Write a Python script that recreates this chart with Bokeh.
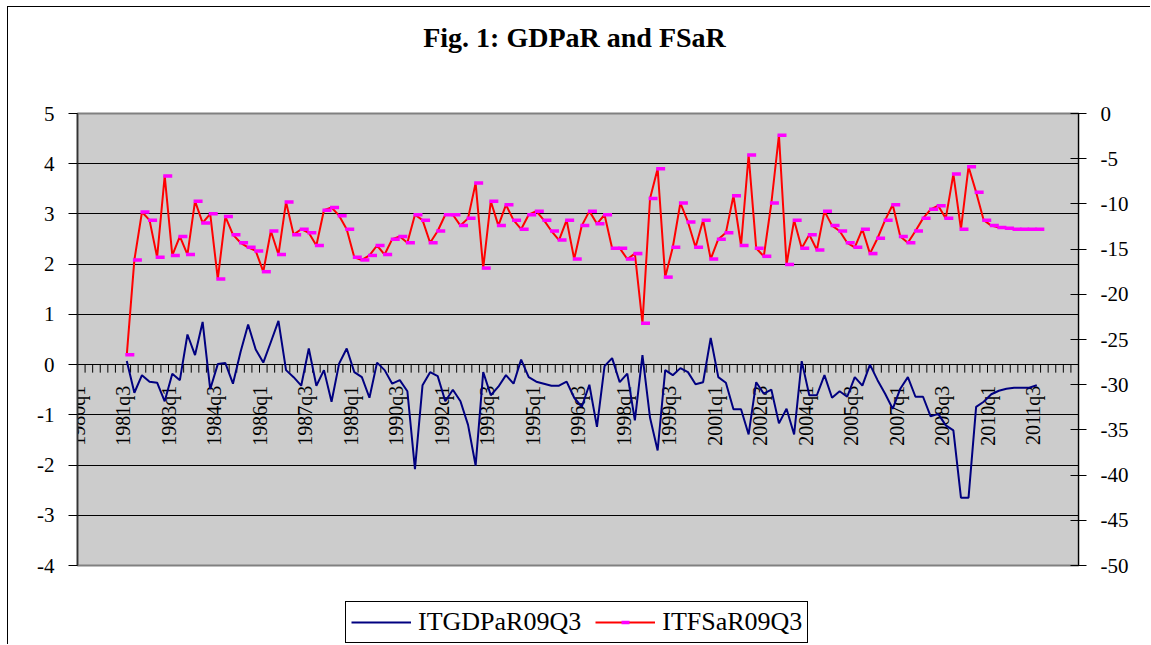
import math
import numpy as np
from bokeh.plotting import figure
from bokeh.layouts import column
from bokeh.models import Range1d, LinearAxis, FixedTicker, ColumnDataSource, Legend, LegendItem
from bokeh.transform import dodge
from bokeh.core.properties import value
from bokeh.embed import file_html
from bokeh.resources import INLINE

title_text = "Fig. 1:  GDPaR and FSaR"
series_names = ["ITGDPaR09Q3", "ITFSaR09Q3"]

# quarterly categories 1980q1 .. 2012q4
quarters = [f"{y}q{q}" for y in range(1980, 2013) for q in range(1, 5)]
tick_labels = ["1980q1", "1981q3", "1983q1", "1984q3", "1986q1", "1987q3", "1989q1",
               "1990q3", "1992q1", "1993q3", "1995q1", "1996q3", "1998q1", "1999q3",
               "2001q1", "2002q3", "2004q1", "2005q3", "2007q1", "2008q3", "2010q1",
               "2011q3"]
series_start = "1981q3"

left_ticks = [-4, -3, -2, -1, 0, 1, 2, 3, 4, 5]
right_ticks = [-50, -45, -40, -35, -30, -25, -20, -15, -10, -5, 0]

# ITGDPaR09Q3 (left axis), 1981q3 .. 2011q3
gdpar = [0.07, -0.56, -0.21, -0.34, -0.36, -0.73, -0.18, -0.31, 0.60, 0.19, 0.85, -0.49,
         0.01, 0.03, -0.38, 0.25, 0.80, 0.30, 0.04, 0.45, 0.87, -0.11, -0.25, -0.42,
         0.32, -0.42, -0.11, -0.74, 0.02, 0.32, -0.15, -0.25,
         -0.66, 0.04, -0.11, -0.38, -0.31, -0.53, -2.08, -0.41, -0.15, -0.23, -0.73, -0.50,
         -0.73, -1.20, -2.01, -0.15, -0.61, -0.44, -0.21, -0.38, 0.10, -0.25, -0.34, -0.38,
         -0.42, -0.42, -0.34, -0.66, -0.84, -0.40, -1.24, -0.03,
         0.13, -0.35, -0.18, -1.11, 0.19, -1.06, -1.71, -0.11, -0.21, -0.07, -0.15, -0.39,
         -0.35, 0.53, -0.25, -0.36, -0.89, -0.89, -1.39, -0.35, -0.58, -0.50, -1.17, -0.88,
         -1.39, 0.07, -0.61, -0.61, -0.21, -0.66, -0.53, -0.64,
         -0.25, -0.42, 0.00, -0.31, -0.58, -0.88, -0.48, -0.25, -0.64, -0.64, -1.03, -0.98,
         -1.21, -1.31, -2.65, -2.65, -0.84, -0.74, -0.59, -0.52, -0.48, -0.46, -0.46, -0.46,
         -0.41]

# ITFSaR09Q3 (right axis), 1981q3 .. 2011q3
fsar = [-26.7, -16.2, -10.9, -11.8, -15.9, -6.9, -15.7, -13.6, -15.6, -9.7, -12.1, -11.1,
        -18.3, -11.4, -13.4, -14.3, -14.8, -15.2, -17.5, -13.0, -15.6, -9.8, -13.4, -12.8,
        -13.2, -14.6, -10.7, -10.4, -11.3, -12.8, -15.9, -16.2,
        -15.7, -14.6, -15.6, -13.9, -13.6, -14.3, -11.2, -11.8, -14.3, -13.0, -11.2, -11.2,
        -12.4, -11.6, -7.7, -17.1, -9.7, -12.4, -10.1, -11.8, -12.8, -11.2, -10.8, -11.8,
        -13.0, -14.0, -11.8, -16.1, -12.4, -10.8, -12.2, -11.2,
        -14.9, -14.9, -16.1, -15.5, -23.2, -9.4, -6.1, -18.1, -14.8, -9.9, -12.0, -14.8,
        -11.8, -16.1, -13.9, -13.2, -9.1, -14.6, -4.6, -14.9, -15.8, -9.9, -2.4, -16.7,
        -11.8, -14.9, -13.4, -15.1, -10.8, -12.4, -13.0, -14.3,
        -14.8, -12.8, -15.5, -13.8, -11.8, -10.1, -13.6, -14.3, -13.0, -11.6, -10.6, -10.2,
        -11.6, -6.7, -12.8, -5.9, -8.7, -11.8, -12.4, -12.6, -12.7, -12.8, -12.8, -12.8,
        -12.8]

FONT = "Liberation Serif"
BLUE, RED, MAGENTA = "#000080", "#FF0000", "#FF00FF"
W, ML, MR = 1142, 69, 72

start = quarters.index(series_start)
xs = [start + k for k in range(len(gdpar))]
src = ColumnDataSource(dict(x=xs, gdpar=gdpar, fsar=fsar,
                            q=[quarters[i] for i in xs]))


def strip(height):
    f = figure(width=W, height=height, x_range=Range1d(0, 1), y_range=Range1d(0, 1),
               x_axis_type=None, y_axis_type=None,
               output_backend="svg", toolbar_location=None,
               min_border_left=ML, min_border_right=MR, min_border_top=0, min_border_bottom=0,
               outline_line_color=None, background_fill_color="white",
               border_fill_color="white")
    f.grid.visible = False
    return f


# ---- title strip
pt = strip(86)
pt.text(x=[0.5], y=[1 - 30 / 86], text=[title_text], text_align="center",
        text_baseline="alphabetic", text_font=value(FONT), text_font_style="bold",
        text_font_size="28px", text_color="black")

# ---- main chart
p = figure(width=W, height=486,
           x_range=Range1d(-0.5, len(quarters) - 0.5),
           y_range=Range1d(left_ticks[0], left_ticks[-1]),
           x_axis_type=None,
           output_backend="svg", toolbar_location=None,
           min_border_left=ML, min_border_right=MR,
           min_border_top=20, min_border_bottom=14,
           background_fill_color="#CCCCCC", border_fill_color="white",
           outline_line_color="#808080", outline_line_width=2)

ya = p.yaxis[0]
ya.ticker = FixedTicker(ticks=left_ticks)
ya.major_label_overrides = {t: str(t) for t in left_ticks}
ya.major_label_text_font = FONT
ya.major_label_text_font_size = "21px"
ya.major_label_text_color = "black"
ya.axis_line_color = "#333333"
ya.axis_line_width = 1.5
ya.major_tick_line_color = "black"
ya.major_tick_in = 0
ya.major_tick_out = 9
ya.minor_tick_line_color = None
ya.major_label_standoff = 14

p.ygrid.ticker = FixedTicker(ticks=left_ticks)
p.ygrid.grid_line_color = "black"
p.ygrid.grid_line_width = 1
p.xgrid.visible = False

p.extra_y_ranges = {"fsar": Range1d(right_ticks[0], right_ticks[-1])}
ra = LinearAxis(y_range_name="fsar", ticker=FixedTicker(ticks=right_ticks))
ra.major_label_overrides = {t: str(t) for t in right_ticks}
ra.major_label_text_font = FONT
ra.major_label_text_font_size = "21px"
ra.major_label_text_color = "black"
ra.axis_line_color = "black"
ra.major_tick_line_color = "black"
ra.major_tick_in = 8
ra.major_tick_out = 8
ra.minor_tick_line_color = None
ra.major_label_standoff = 14
p.add_layout(ra, "right")

# category axis drawn on the zero line
tick_pos = [k - 0.5 for k in range(len(quarters) + 1)]
p.segment(x0=tick_pos, y0=[0] * len(tick_pos), x1=tick_pos, y1=[-0.16] * len(tick_pos),
          line_color="black", line_width=1)
lab_src = ColumnDataSource(dict(x=[quarters.index(t) - 0.5 for t in tick_labels],
                                y=[-0.42] * len(tick_labels), text=tick_labels))
p.text(x="x", y="y", text="text", source=lab_src, angle=math.pi / 2,
       text_align="right", text_baseline="middle",
       text_font=value(FONT), text_font_size="20px", text_color="black")

p.line("x", "gdpar", source=src, line_color=BLUE, line_width=2)
p.line("x", "fsar", source=src, y_range_name="fsar", line_color=RED, line_width=2)
p.scatter(x=dodge("x", 0.4), y="fsar", source=src, y_range_name="fsar",
          marker="dash", size=9, line_color=MAGENTA, line_width=3.5)

# ---- legend strip
pl = strip(65)
nan = np.array([np.nan])
lb = pl.line(x=nan, y=nan, line_color=BLUE, line_width=2)
lr = pl.line(x=nan, y=nan, line_color=RED, line_width=2)
lm = pl.scatter(x=nan, y=nan, marker="dash", size=9, line_color=MAGENTA, line_width=3.5)
legend = Legend(items=[LegendItem(label=series_names[0], renderers=[lb]),
                       LegendItem(label=series_names[1], renderers=[lr, lm])],
                orientation="horizontal", location=(268, 1))
legend.label_text_font = FONT
legend.label_text_font_size = "26px"
legend.label_text_color = "black"
legend.border_line_color = "black"
legend.border_line_width = 1
legend.border_line_alpha = 1
legend.background_fill_color = "white"
legend.background_fill_alpha = 1
legend.glyph_width = 60
legend.glyph_height = 20
legend.label_standoff = 7
legend.spacing = 14
legend.padding = 5
legend.margin = 0
pl.add_layout(legend, "center")

layout = column(pt, p, pl, spacing=0,
                styles={"margin-left": "7px", "margin-top": "6px",
                        "border-left": "1px solid #000", "border-top": "1px solid #000"})

open("out.html", "w").write(file_html(layout, INLINE))
